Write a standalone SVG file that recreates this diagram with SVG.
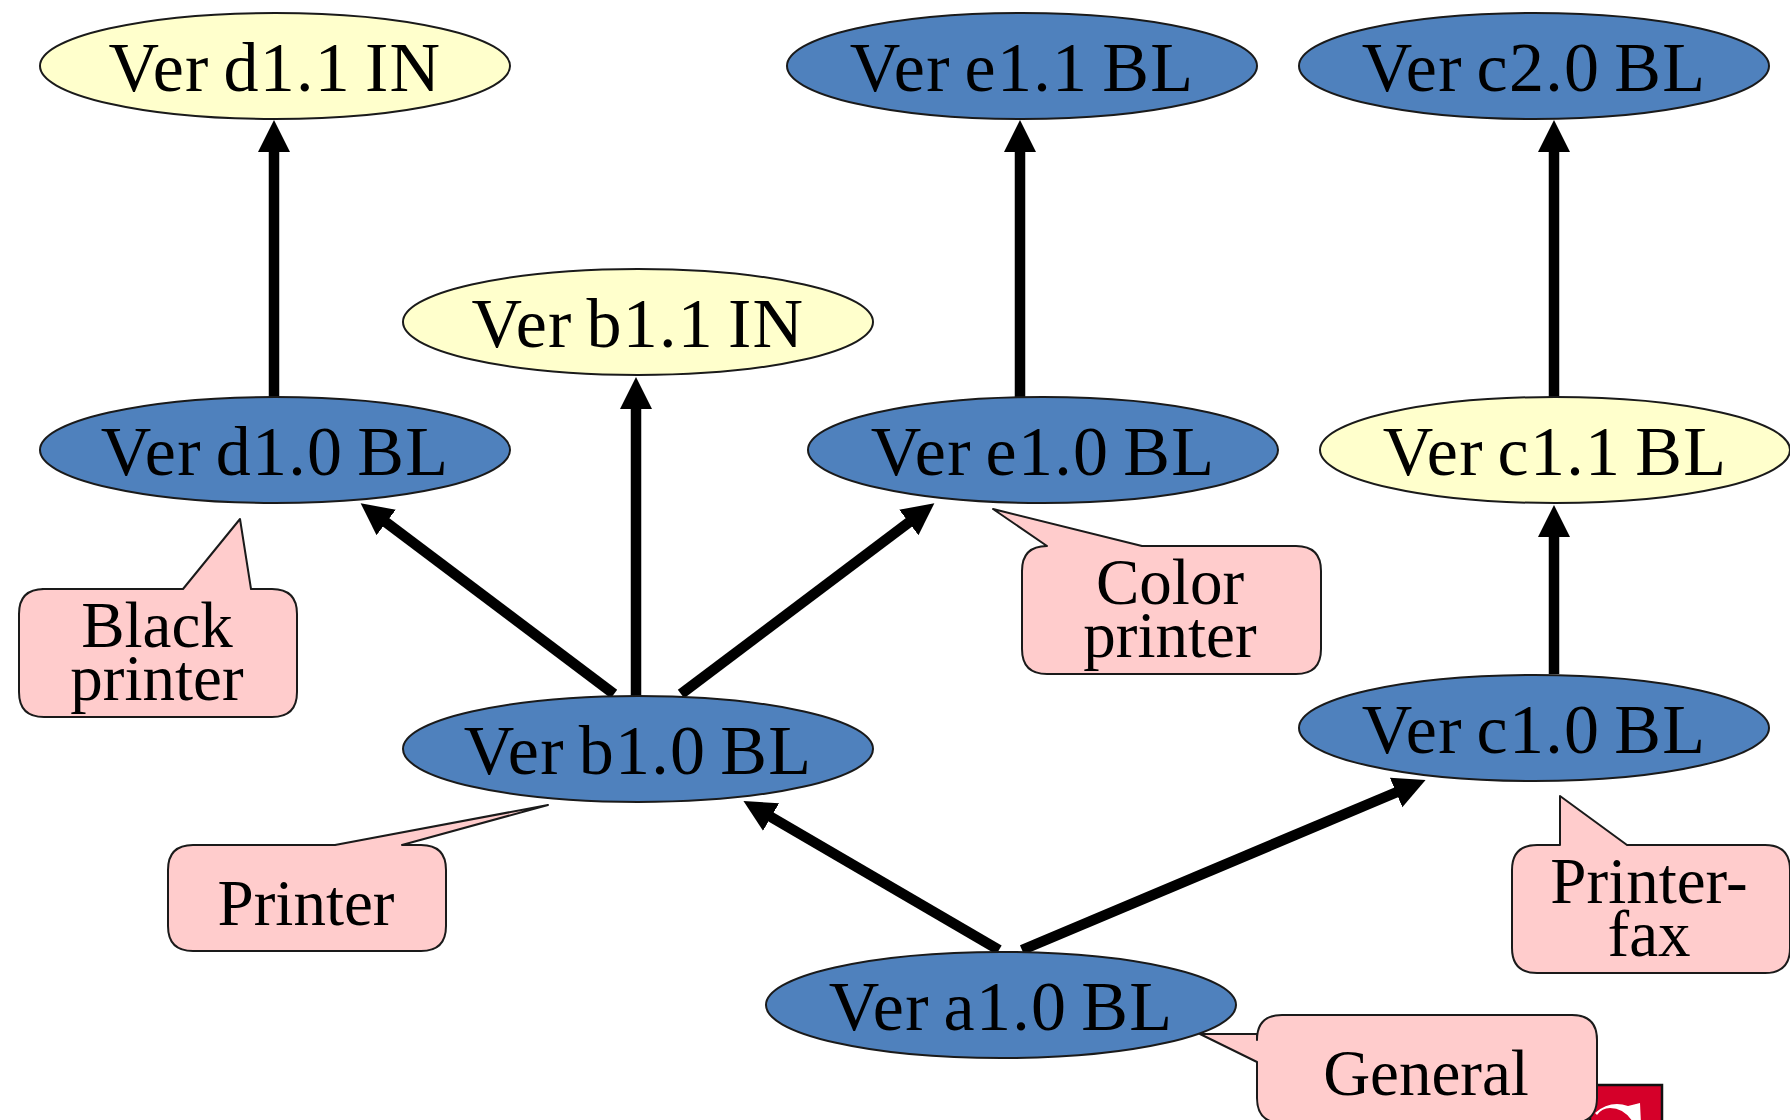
<svg xmlns="http://www.w3.org/2000/svg" width="1790" height="1120" viewBox="0 0 1790 1120">
<style>
text{font-family:"Liberation Serif","Times New Roman",serif;fill:#000;text-anchor:middle;font-size:70px;letter-spacing:1.3px;word-spacing:-5px}
text.n{font-size:65px;letter-spacing:0;word-spacing:0}
.blue{fill:#4f81bd;stroke:#1a1a1a;stroke-width:2}
.yellow{fill:#ffffcc;stroke:#1a1a1a;stroke-width:2}
.note{fill:#ffcccc;stroke:#1a1a1a;stroke-width:2;stroke-linejoin:round}
.edge{fill:none;stroke:#000;stroke-width:10.5;marker-end:url(#arrow)}
</style>
<defs>
<marker id="arrow" markerUnits="userSpaceOnUse" markerWidth="36" markerHeight="36" refX="14" refY="16" orient="auto">
<path d="M0 0L32 16L0 32z" fill="#000"/>
</marker>
</defs>
<rect width="1790" height="1120" fill="#fff"/>
<g id="stamp">
<rect x="1590" y="1085" width="72" height="40" fill="#d50029" stroke="#111" stroke-width="2.5"/>
<path d="M1595 1113Q1610 1100 1628 1106L1640 1103L1641 1124H1634Q1625 1108 1610 1108Q1602 1108 1597 1115Z" fill="#fff"/>
</g>
<g id="connectors">
<path class="edge" d="M274 397V138"/>
<path class="edge" d="M1020 397V138"/>
<path class="edge" d="M1554 397V138"/>
<path class="edge" d="M636 696V395"/>
<path class="edge" d="M614 694L375 514"/>
<path class="edge" d="M681 694L920 514"/>
<path class="edge" d="M1554 674V523"/>
<path class="edge" d="M999 950L759 810"/>
<path class="edge" d="M1022 950L1409 787"/>
</g>
<g id="ver-d1-1"><ellipse class="yellow" cx="275" cy="66" rx="235" ry="53"/><text x="275" y="91">Ver d1.1 IN</text></g>
<g id="ver-e1-1"><ellipse class="blue" cx="1022" cy="66" rx="235" ry="53"/><text x="1022" y="91">Ver e1.1 BL</text></g>
<g id="ver-c2-0"><ellipse class="blue" cx="1534" cy="66" rx="235" ry="53"/><text x="1534" y="91">Ver c2.0 BL</text></g>
<g id="ver-b1-1"><ellipse class="yellow" cx="638" cy="322" rx="235" ry="53"/><text x="638" y="347">Ver b1.1 IN</text></g>
<g id="ver-d1-0"><ellipse class="blue" cx="275" cy="450" rx="235" ry="53"/><text x="275" y="475">Ver d1.0 BL</text></g>
<g id="ver-e1-0"><ellipse class="blue" cx="1043" cy="450" rx="235" ry="53"/><text x="1043" y="475">Ver e1.0 BL</text></g>
<g id="ver-c1-1"><ellipse class="yellow" cx="1555" cy="450" rx="235" ry="53"/><text x="1555" y="475">Ver c1.1 BL</text></g>
<g id="ver-b1-0"><ellipse class="blue" cx="638" cy="749" rx="235" ry="53"/><text x="638" y="774">Ver b1.0 BL</text></g>
<g id="ver-c1-0"><ellipse class="blue" cx="1534" cy="728" rx="235" ry="53"/><text x="1534" y="753">Ver c1.0 BL</text></g>
<g id="ver-a1-0"><ellipse class="blue" cx="1001" cy="1005" rx="235" ry="53"/><text x="1001" y="1030">Ver a1.0 BL</text></g>
<g id="note-black">
<path class="note" d="M42 589H183L240 519L251 589H272Q297 589 297 614V692Q297 717 272 717H44Q19 717 19 692V614Q19 589 44 589Z"/>
<text class="n" x="157" y="647">Black</text><text class="n" x="157" y="700">printer</text>
</g>
<g id="note-color">
<path class="note" d="M1047 546L993 509L1142 546H1296Q1321 546 1321 571V649Q1321 674 1296 674H1047Q1022 674 1022 649V571Q1022 546 1047 546Z"/>
<text class="n" x="1170" y="604">Color</text><text class="n" x="1170" y="657">printer</text>
</g>
<g id="note-printer">
<path class="note" d="M193 845H335L548 805L402 845H421Q446 845 446 870V926Q446 951 421 951H193Q168 951 168 926V870Q168 845 193 845Z"/>
<text class="n" x="306" y="925">Printer</text>
</g>
<g id="note-fax">
<path class="note" d="M1537 845H1560V796L1627 845H1765Q1790 845 1790 870V948Q1790 973 1765 973H1537Q1512 973 1512 948V870Q1512 845 1537 845Z"/>
<text class="n" x="1649" y="903">Printer-</text><text class="n" x="1649" y="956">fax</text>
</g>
<g id="note-general">
<path class="note" d="M1282 1015H1572Q1597 1015 1597 1040V1098Q1597 1123 1572 1123H1282Q1257 1123 1257 1098V1062L1200 1034H1257V1040Q1257 1015 1282 1015Z"/>
<text class="n" x="1426" y="1095">General</text>
</g>
</svg>
